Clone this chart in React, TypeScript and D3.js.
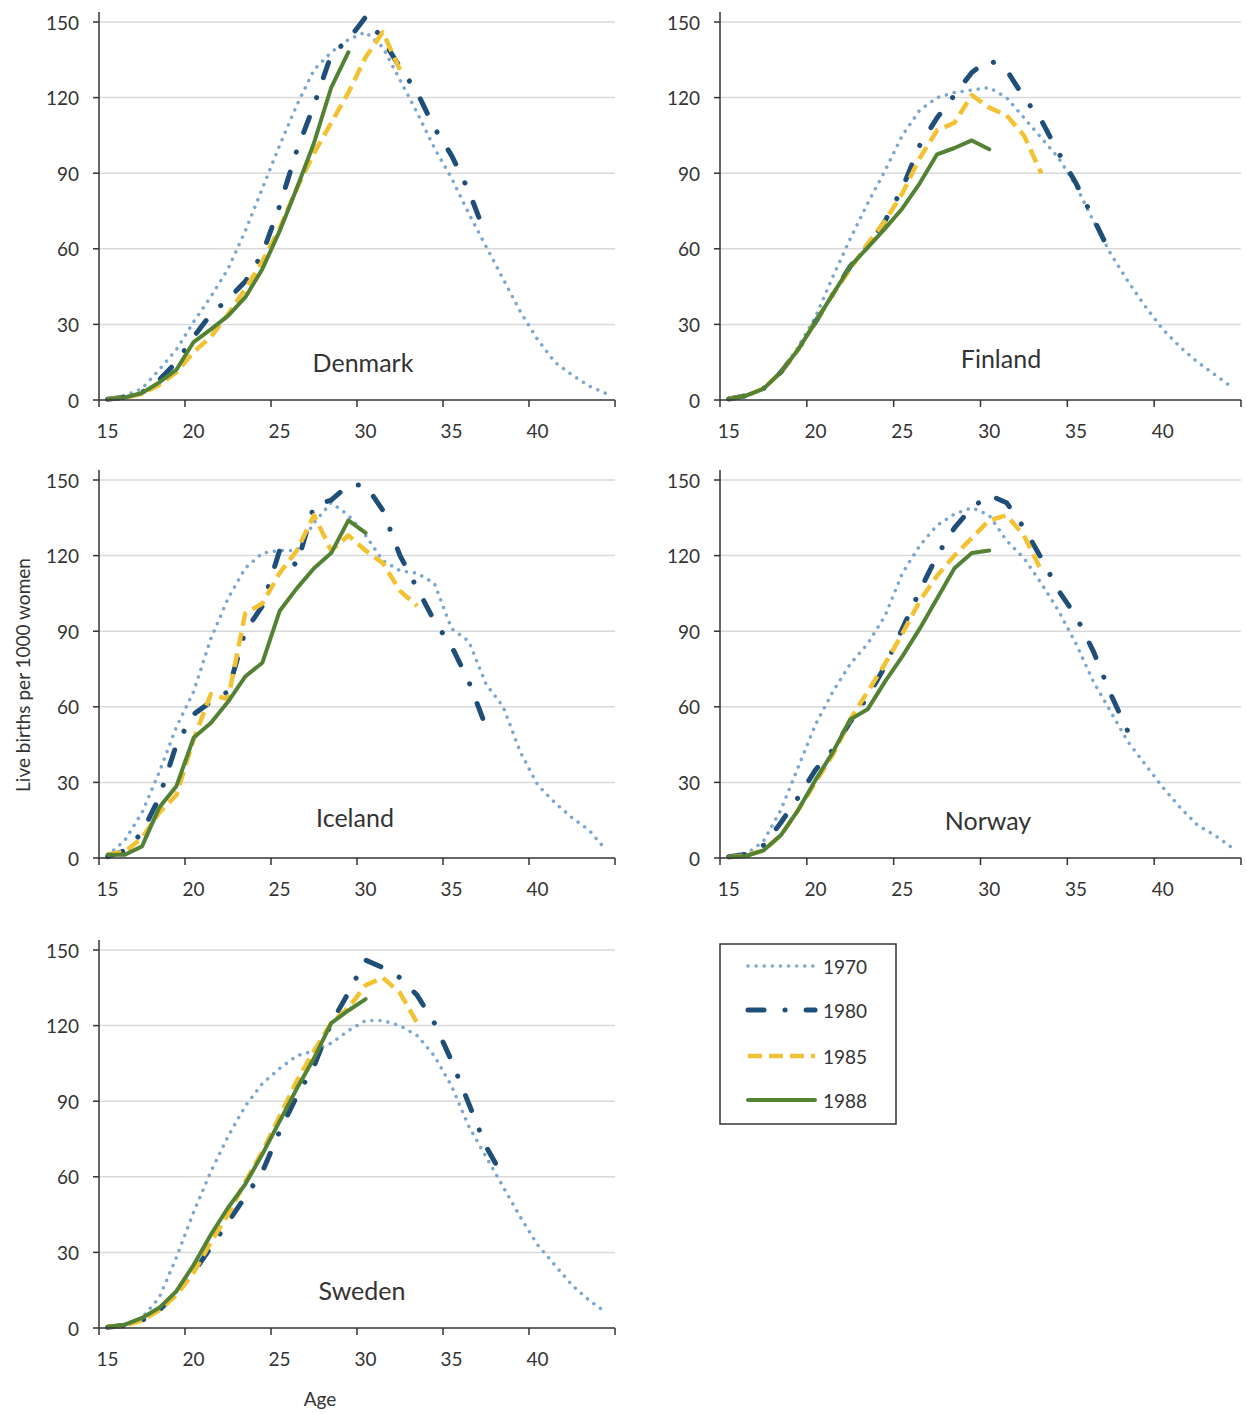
import React from "react";
import * as d3 from "d3";

// age categories (x axis is a category axis, one slot per year of age)
const ages = [15, 16, 17, 18, 19, 20, 21, 22, 23, 24, 25, 26, 27, 28, 29, 30, 31, 32, 33, 34, 35, 36, 37, 38, 39, 40, 41, 42, 43, 44];
const years = ["1970", "1980", "1985", "1988"];
const countries = ["Denmark", "Finland", "Iceland", "Norway", "Sweden"];
const yTicks = [0, 30, 60, 90, 120, 150];
const xTickLabels = [15, 20, 25, 30, 35, 40];

// live births per 1000 women, starting at age 15
const denmark1970 = [0.4, 1.7, 4.5, 12, 20, 31, 41, 52, 67, 84, 101, 117, 131, 138, 143, 146, 140, 127, 114, 100, 88, 74, 61, 48, 35, 24, 15, 10, 5.5, 2.5];
const denmark1980 = [0.3, 1.2, 3, 8, 15, 25, 34, 40, 47, 58, 77, 99, 117, 137, 143, 152, 143, 132, 122, 108, 97, 83, 65];
const denmark1985 = [0.3, 1, 2.5, 6, 11, 19, 25, 34, 44, 55, 68, 84, 98, 110, 122, 136, 146, 131];
const denmark1988 = [0.3, 1, 2.8, 7, 12, 23, 28, 33.4, 40.7, 52, 67, 84, 102, 124, 138];

const finland1970 = [0.4, 1.5, 4.5, 11, 21, 33, 49, 64, 78, 91, 105, 115, 120, 122, 123, 124, 120, 112, 104, 96, 85, 71, 58, 47, 37, 28, 21, 15, 10, 5];
const finland1980 = [0.4, 1.7, 4.5, 11, 20, 31, 42, 53, 61, 71, 84, 101, 112, 121, 130, 135, 131, 120, 111, 98, 86, 72, 58];
const finland1985 = [0.4, 1.7, 4.5, 11, 20, 31, 42, 52, 62, 71, 82, 96, 107, 110, 121, 116, 113, 105, 90];
const finland1988 = [0.4, 1.7, 4.4, 11, 20, 31, 42, 53, 60.5, 68, 76, 86, 97.5, 100, 103, 99.5];

const iceland1970 = [1, 7, 18, 34, 52, 66, 87, 103, 115, 121, 122, 122, 133, 141, 136, 128, 118, 114, 113, 109, 91, 86, 69, 60, 42, 29, 22, 16, 11, 3];
const iceland1980 = [0.5, 3, 10, 24, 45, 57, 62, 66, 90, 100, 122, 116, 140, 142, 148, 148, 138, 120, 107, 94, 84, 70, 52];
const iceland1985 = [1.5, 2.5, 8, 18, 25, 47, 65, 63, 97, 101, 113, 122, 136, 122, 128, 122, 117, 106, 100];
const iceland1988 = [1.3, 1.3, 4.6, 20, 28.5, 47.7, 53.6, 62, 72, 77.5, 98, 107, 115, 121, 134, 129];

const norway1970 = [0.3, 1.5, 6.6, 19, 36, 53, 66, 77, 85, 96, 113, 124, 132, 136.5, 139, 136, 126, 119, 109, 98, 85, 70, 58, 46, 37, 28, 20, 13, 9, 4];
const norway1980 = [0.5, 1.5, 5, 14, 24, 35, 43, 54, 64, 76, 91, 106, 120, 131, 139, 144, 141, 131, 119, 106, 96, 82, 65, 50];
const norway1985 = [0.3, 1, 3, 9, 19, 30, 41, 55, 66, 77, 89, 102, 112, 120, 127, 134, 136, 128, 114];
const norway1988 = [0.3, 0.8, 3, 9, 19, 31, 42, 55, 59, 70, 80, 91, 103, 115, 121, 122];

const sweden1970 = [0.5, 1.5, 4, 12, 28, 46, 62, 76, 88, 97, 103, 108, 110, 113, 118, 122, 122, 120, 116, 108, 96, 80, 68, 56, 44, 33, 25, 17, 11, 6];
const sweden1980 = [0.3, 1, 3, 7, 14, 22, 32, 42, 52, 62, 78, 92, 104, 121, 133, 146, 143, 139, 132, 121, 106, 89, 72, 60];
const sweden1985 = [0.5, 1, 3, 7, 13, 22, 34, 45, 58, 70, 84, 98, 110, 121, 127, 136, 139, 133, 121];
const sweden1988 = [0.5, 1.3, 4, 8, 14.6, 25, 37, 47.7, 57, 69, 82, 95, 107, 121, 126, 130.5];

const seriesByCountry: Record<string, number[][]> = {
  Denmark: [denmark1970, denmark1980, denmark1985, denmark1988],
  Finland: [finland1970, finland1980, finland1985, finland1988],
  Iceland: [iceland1970, iceland1980, iceland1985, iceland1988],
  Norway: [norway1970, norway1980, norway1985, norway1988],
  Sweden: [sweden1970, sweden1980, sweden1985, sweden1988],
};

const lineStyles: Record<string, any> = {
  "1970": { stroke: "#7ba7d0", strokeWidth: 3.5, strokeDasharray: "0.1 8", strokeLinecap: "round" },
  "1980": { stroke: "#1f4e79", strokeWidth: 5, strokeDasharray: "16 21 0.1 21", strokeLinecap: "round" },
  "1985": { stroke: "#f3c233", strokeWidth: 4.5, strokeDasharray: "14 7", strokeLinecap: "butt" },
  "1988": { stroke: "#548235", strokeWidth: 4, strokeLinecap: "round" },
};

const font = "Lato, 'Open Sans', sans-serif";
const ink = "#333";

// panel frames in page pixels
const panels = [
  { left: 99, width: 516, bottom: 400, labelX: 363, labelY: 362 },
  { left: 720, width: 521, bottom: 400, labelX: 1001, labelY: 358 },
  { left: 99, width: 516, bottom: 858, labelX: 355, labelY: 817 },
  { left: 720, width: 521, bottom: 858, labelX: 988, labelY: 820 },
  { left: 99, width: 516, bottom: 1328, labelX: 362, labelY: 1290 },
];
const plotHeight = 378;

function Panel({ country, frame }: { country: string; frame: typeof panels[number] }) {
  const x = d3.scaleBand<number>().domain(ages).range([frame.left, frame.left + frame.width]).padding(0);
  const y = d3.scaleLinear().domain([0, 150]).range([frame.bottom, frame.bottom - plotHeight]);
  const bw = x.bandwidth();
  const cx = (a: number) => (x(a) as number) + bw / 2;
  const line = d3
    .line<number>()
    .x((_, i) => cx(ages[i]))
    .y((v) => y(v));
  const tickAges = ages.filter((a) => (a - 15) % 5 === 0);
  const right = frame.left + frame.width;

  return (
    <g>
      {yTicks.slice(1).map((t) => (
        <line key={t} x1={frame.left} x2={right} y1={y(t)} y2={y(t)} stroke="#d9d9d9" strokeWidth={1.5} />
      ))}
      {seriesByCountry[country].map((vals, i) => (
        <path key={years[i]} d={line(vals) || ""} fill="none" strokeLinejoin="round" {...lineStyles[years[i]]} />
      ))}
      <line x1={frame.left} x2={frame.left} y1={y(0)} y2={y(150) - 10} stroke={ink} strokeWidth={1.5} />
      <line x1={frame.left} x2={right} y1={y(0)} y2={y(0)} stroke={ink} strokeWidth={1.5} />
      {yTicks.map((t) => (
        <g key={t}>
          <line x1={frame.left - 6} x2={frame.left} y1={y(t)} y2={y(t)} stroke={ink} strokeWidth={1.5} />
          <text x={frame.left - 20} y={y(t)} textAnchor="end" dominantBaseline="central" fontSize={19} fill={ink} fontFamily={font}>
            {t}
          </text>
        </g>
      ))}
      {tickAges.map((a) => (
        <line key={a} x1={x(a)} x2={x(a)} y1={y(0)} y2={y(0) + 7} stroke={ink} strokeWidth={1.5} />
      ))}
      <line x1={right} x2={right} y1={y(0)} y2={y(0) + 7} stroke={ink} strokeWidth={1.5} />
      {xTickLabels.map((a) => (
        <text key={a} x={cx(a)} y={y(0) + 30} textAnchor="middle" dominantBaseline="central" fontSize={19} fill={ink} fontFamily={font}>
          {a}
        </text>
      ))}
      <text x={frame.labelX} y={frame.labelY} textAnchor="middle" dominantBaseline="central" fontSize={25} fill={ink} fontFamily={font}>
        {country}
      </text>
    </g>
  );
}

export default function App() {
  const legendRows = [966, 1010, 1056, 1100];
  return (
    <svg width={1247} height={1414} style={{ position: "absolute", left: 0, top: 0, background: "#fff" }}>
      {countries.map((c, i) => (
        <Panel key={c} country={c} frame={panels[i]} />
      ))}
      <text
        transform="translate(22,675) rotate(-90)"
        textAnchor="middle"
        dominantBaseline="central"
        fontSize={19}
        fill={ink}
        fontFamily={font}
      >
        Live births per 1000 women
      </text>
      <text x={320} y={1398} textAnchor="middle" dominantBaseline="central" fontSize={19} fill={ink} fontFamily={font}>
        Age
      </text>
      <rect x={720} y={944} width={176} height={180} fill="#fff" stroke={ink} strokeWidth={1.5} />
      {years.map((yr, i) => (
        <g key={yr}>
          <line x1={748} x2={815} y1={legendRows[i]} y2={legendRows[i]} {...lineStyles[yr]} />
          <text x={823} y={legendRows[i]} dominantBaseline="central" fontSize={19} fill={ink} fontFamily={font}>
            {yr}
          </text>
        </g>
      ))}
    </svg>
  );
}
